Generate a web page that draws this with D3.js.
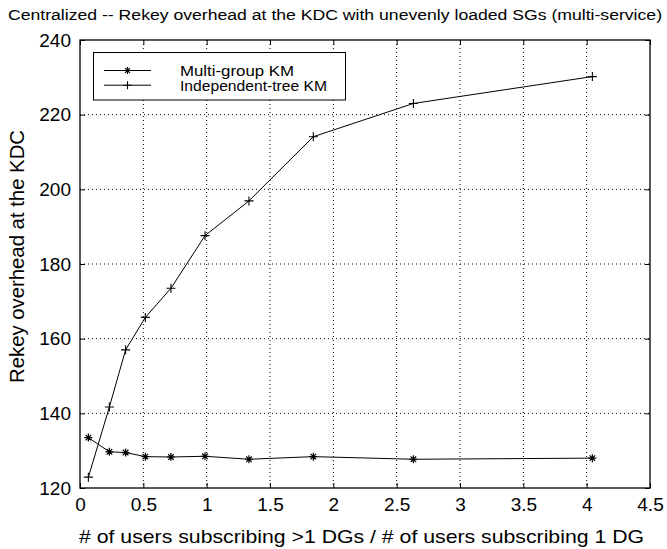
<!DOCTYPE html>
<html><head><meta charset="utf-8">
<script src="https://cdn.jsdelivr.net/npm/d3@7"></script>
<style>body{margin:0;background:#fff}svg{display:block}text{font-family:"Liberation Sans",Arial,Helvetica,sans-serif;fill:#000}</style>
</head><body><svg id="c" width="667" height="549"></svg>
<script>
const xValues = [0.066, 0.232, 0.36, 0.516, 0.718, 0.987, 1.334, 1.842, 2.632, 4.045];
const multiGroup = [133.5, 129.7, 129.5, 128.4, 128.3, 128.5, 127.7, 128.4, 127.7, 128.0];
const independentTree = [122.9, 141.7, 157.0, 165.7, 173.5, 187.6, 196.9, 214.1, 223.0, 230.2];
const seriesNames = ["Multi-group KM", "Independent-tree KM"];
const xTicks = [0, 0.5, 1, 1.5, 2, 2.5, 3, 3.5, 4, 4.5];
const yTicks = [120, 140, 160, 180, 200, 220, 240];
const titleText = "Centralized -- Rekey overhead at the KDC with unevenly loaded SGs (multi-service)";
const xLabel = "# of users subscribing >1 DGs / # of users subscribing 1 DG";
const yLabel = "Rekey overhead at the KDC";

const svg = d3.select("#c");
const L = 80, R = 650, T = 40, B = 488;
const x = d3.scaleLinear().domain([0, 4.5]).range([L, R]);
const y = d3.scaleLinear().domain([120, 240]).range([B, T]);

// grid
const g = svg.append("g");
g.selectAll(".gx").data(xTicks.slice(1, -1)).join("line")
  .attr("x1", d => x(d)).attr("x2", d => x(d)).attr("y1", T).attr("y2", B)
  .attr("stroke", "#000").attr("stroke-width", 1).attr("stroke-dasharray", "1,3");
g.selectAll(".gy").data(yTicks.slice(1, -1)).join("line")
  .attr("y1", d => y(d)).attr("y2", d => y(d)).attr("x1", L).attr("x2", R)
  .attr("stroke", "#000").attr("stroke-width", 1).attr("stroke-dasharray", "1,3");

// axes with inward ticks
const axB = svg.append("g").attr("transform", `translate(0,${B})`)
  .call(d3.axisBottom(x).tickValues(xTicks).tickSize(-5).tickPadding(10).tickFormat(d3.format("")));
const axT = svg.append("g").attr("transform", `translate(0,${T})`)
  .call(d3.axisTop(x).tickValues(xTicks).tickSize(-5).tickFormat(""));
const axL = svg.append("g").attr("transform", `translate(${L},0)`)
  .call(d3.axisLeft(y).tickValues(yTicks).tickSize(-5).tickPadding(9));
const axR = svg.append("g").attr("transform", `translate(${R},0)`)
  .call(d3.axisRight(y).tickValues(yTicks).tickSize(-5).tickFormat(""));
[axB, axT, axL, axR].forEach(a => {
  a.select(".domain").remove();
  a.selectAll("line").attr("stroke", "#000");
  a.selectAll("text").attr("font-size", 19).attr("font-family", '"Liberation Sans",Arial,sans-serif').attr("fill", "#000");
});
axB.selectAll("text").attr("dy", "0.71em");
svg.append("rect").attr("x", L).attr("y", T).attr("width", R - L).attr("height", B - T)
  .attr("fill", "none").attr("stroke", "#000").attr("stroke-width", 1.3);

// lines
const line = d3.line().x(d => x(d[0])).y(d => y(d[1]));
const mg = xValues.map((v, i) => [v, multiGroup[i]]);
const it = xValues.map((v, i) => [v, independentTree[i]]);
svg.append("path").attr("d", line(mg)).attr("fill", "none").attr("stroke", "#000").attr("stroke-width", 1);
svg.append("path").attr("d", line(it)).attr("fill", "none").attr("stroke", "#000").attr("stroke-width", 1);

function star(sel, cx, cy, s) {
  const p = `M${cx - s},${cy}H${cx + s}M${cx},${cy - s}V${cy + s}M${cx - s * 0.7},${cy - s * 0.7}L${cx + s * 0.7},${cy + s * 0.7}M${cx - s * 0.7},${cy + s * 0.7}L${cx + s * 0.7},${cy - s * 0.7}`;
  sel.append("path").attr("d", p).attr("stroke", "#000").attr("stroke-width", 1.2).attr("fill", "none");
}
function plus(sel, cx, cy, s) {
  sel.append("path").attr("d", `M${cx - s},${cy}H${cx + s}M${cx},${cy - s}V${cy + s}`)
    .attr("stroke", "#000").attr("stroke-width", 1.1).attr("fill", "none");
}
const mk = svg.append("g");
mg.forEach(d => star(mk, x(d[0]), y(d[1]), 4));
it.forEach(d => plus(mk, x(d[0]), y(d[1]), 4.5));

function fit(t, w) { t.attr("textLength", w).attr("lengthAdjust", "spacingAndGlyphs"); }

// legend
const lg = svg.append("g");
lg.append("rect").attr("x", 93.5).attr("y", 52.5).attr("width", 252).attr("height", 47.5)
  .attr("fill", "#fff").attr("stroke", "#000").attr("stroke-width", 1);
const rows = [70.5, 85.2];
const legendWidths = [114, 147];
rows.forEach((ry, i) => {
  lg.append("line").attr("x1", 104).attr("x2", 151).attr("y1", ry).attr("y2", ry).attr("stroke", "#000");
  if (i === 0) star(lg, 127.5, ry, 3.5); else plus(lg, 127.5, ry, 4);
  const t = lg.append("text").attr("x", 180).attr("y", ry + 5.5).attr("font-size", 14.5).text(seriesNames[i]);
  fit(t, legendWidths[i]);
});

// title and labels
const tt = svg.append("text").attr("x", 8).attr("y", 20).attr("font-size", 15.5).text(titleText);
fit(tt, 654);
const xl = svg.append("text").attr("x", 361.5).attr("y", 543).attr("text-anchor", "middle").attr("font-size", 19).text(xLabel);
fit(xl, 565);
const yl = svg.append("text").attr("transform", `translate(24,256.5) rotate(-90)`).attr("text-anchor", "middle").attr("font-size", 20).text(yLabel);
fit(yl, 253);
</script></body></html>
